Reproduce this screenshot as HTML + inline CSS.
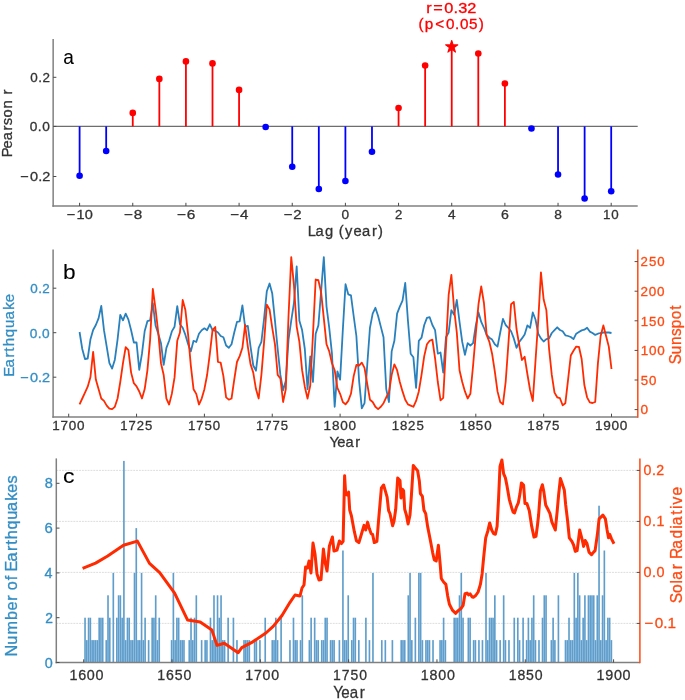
<!DOCTYPE html>
<html><head><meta charset="utf-8"><title>Earthquake and solar activity correlation</title><style>
html,body{margin:0;padding:0;background:#fff;}
svg{display:block;font-family:"Liberation Sans", sans-serif;will-change:transform;}
</style></head><body>
<svg width="685" height="700" viewBox="0 0 685 700">
<rect width="685" height="700" fill="#fff"/>
<line x1="53.15" y1="126.40" x2="637.70" y2="126.40" stroke="#6e6e6e" stroke-width="1.2"/>
<line x1="79.60" y1="126.40" x2="79.60" y2="175.80" stroke="#0000ff" stroke-width="1.8"/>
<circle cx="79.60" cy="175.80" r="3.3" fill="#0000ff"/>
<line x1="106.18" y1="126.40" x2="106.18" y2="151.00" stroke="#0000ff" stroke-width="1.8"/>
<circle cx="106.18" cy="151.00" r="3.3" fill="#0000ff"/>
<line x1="132.76" y1="126.40" x2="132.76" y2="112.90" stroke="#ff0000" stroke-width="1.8"/>
<circle cx="132.76" cy="112.90" r="3.3" fill="#ff0000"/>
<line x1="159.34" y1="126.40" x2="159.34" y2="78.90" stroke="#ff0000" stroke-width="1.8"/>
<circle cx="159.34" cy="78.90" r="3.3" fill="#ff0000"/>
<line x1="185.92" y1="126.40" x2="185.92" y2="61.40" stroke="#ff0000" stroke-width="1.8"/>
<circle cx="185.92" cy="61.40" r="3.3" fill="#ff0000"/>
<line x1="212.50" y1="126.40" x2="212.50" y2="63.40" stroke="#ff0000" stroke-width="1.8"/>
<circle cx="212.50" cy="63.40" r="3.3" fill="#ff0000"/>
<line x1="239.08" y1="126.40" x2="239.08" y2="89.90" stroke="#ff0000" stroke-width="1.8"/>
<circle cx="239.08" cy="89.90" r="3.3" fill="#ff0000"/>
<line x1="265.66" y1="126.40" x2="265.66" y2="127.00" stroke="#0000ff" stroke-width="1.8"/>
<circle cx="265.66" cy="127.00" r="3.3" fill="#0000ff"/>
<line x1="292.24" y1="126.40" x2="292.24" y2="166.70" stroke="#0000ff" stroke-width="1.8"/>
<circle cx="292.24" cy="166.70" r="3.3" fill="#0000ff"/>
<line x1="318.82" y1="126.40" x2="318.82" y2="189.00" stroke="#0000ff" stroke-width="1.8"/>
<circle cx="318.82" cy="189.00" r="3.3" fill="#0000ff"/>
<line x1="345.40" y1="126.40" x2="345.40" y2="181.00" stroke="#0000ff" stroke-width="1.8"/>
<circle cx="345.40" cy="181.00" r="3.3" fill="#0000ff"/>
<line x1="371.98" y1="126.40" x2="371.98" y2="151.80" stroke="#0000ff" stroke-width="1.8"/>
<circle cx="371.98" cy="151.80" r="3.3" fill="#0000ff"/>
<line x1="398.56" y1="126.40" x2="398.56" y2="108.00" stroke="#ff0000" stroke-width="1.8"/>
<circle cx="398.56" cy="108.00" r="3.3" fill="#ff0000"/>
<line x1="425.14" y1="126.40" x2="425.14" y2="65.50" stroke="#ff0000" stroke-width="1.8"/>
<circle cx="425.14" cy="65.50" r="3.3" fill="#ff0000"/>
<line x1="451.72" y1="126.40" x2="451.72" y2="47.00" stroke="#ff0000" stroke-width="1.8"/>
<polygon points="451.72,40.50 453.16,44.92 457.81,44.92 454.04,47.66 455.48,52.08 451.72,49.34 447.96,52.08 449.40,47.66 445.63,44.92 450.28,44.92" fill="#ff0000" stroke="#ff0000" stroke-width="1.1" stroke-linejoin="round"/>
<line x1="478.30" y1="126.40" x2="478.30" y2="53.50" stroke="#ff0000" stroke-width="1.8"/>
<circle cx="478.30" cy="53.50" r="3.3" fill="#ff0000"/>
<line x1="504.88" y1="126.40" x2="504.88" y2="83.50" stroke="#ff0000" stroke-width="1.8"/>
<circle cx="504.88" cy="83.50" r="3.3" fill="#ff0000"/>
<line x1="531.46" y1="126.40" x2="531.46" y2="128.50" stroke="#0000ff" stroke-width="1.8"/>
<circle cx="531.46" cy="128.50" r="3.3" fill="#0000ff"/>
<line x1="558.04" y1="126.40" x2="558.04" y2="174.50" stroke="#0000ff" stroke-width="1.8"/>
<circle cx="558.04" cy="174.50" r="3.3" fill="#0000ff"/>
<line x1="584.62" y1="126.40" x2="584.62" y2="198.50" stroke="#0000ff" stroke-width="1.8"/>
<circle cx="584.62" cy="198.50" r="3.3" fill="#0000ff"/>
<line x1="611.20" y1="126.40" x2="611.20" y2="191.30" stroke="#0000ff" stroke-width="1.8"/>
<circle cx="611.20" cy="191.30" r="3.3" fill="#0000ff"/>
<line x1="53.15" y1="39.00" x2="53.15" y2="206.75" stroke="#808080" stroke-width="1.5"/>
<line x1="52.40" y1="206.00" x2="637.70" y2="206.00" stroke="#808080" stroke-width="1.5"/>
<line x1="79.60" y1="206.00" x2="79.60" y2="202.80" stroke="#4a4a4a" stroke-width="1"/>
<text transform="translate(0 218.90) scale(1.0938 1)" x="61.13 69.97 77.58" y="0" font-size="13.28" fill="#333333" stroke="#333333" stroke-width="0.3">−10</text>
<line x1="132.76" y1="206.00" x2="132.76" y2="202.80" stroke="#4a4a4a" stroke-width="1"/>
<text transform="translate(0 218.90) scale(1.1502 1)" x="107.75 116.24" y="0" font-size="13.28" fill="#333333" stroke="#333333" stroke-width="0.3">−8</text>
<line x1="185.92" y1="206.00" x2="185.92" y2="202.80" stroke="#4a4a4a" stroke-width="1"/>
<text transform="translate(0 218.90) scale(1.1632 1)" x="152.18 160.56" y="0" font-size="13.28" fill="#333333" stroke="#333333" stroke-width="0.3">−6</text>
<line x1="239.08" y1="206.00" x2="239.08" y2="202.80" stroke="#4a4a4a" stroke-width="1"/>
<text transform="translate(0 218.90) scale(1.1407 1)" x="201.82 210.37" y="0" font-size="13.28" fill="#333333" stroke="#333333" stroke-width="0.3">−4</text>
<line x1="292.24" y1="206.00" x2="292.24" y2="202.80" stroke="#4a4a4a" stroke-width="1"/>
<text transform="translate(0 218.90) scale(1.1284 1)" x="251.42 259.91" y="0" font-size="13.28" fill="#333333" stroke="#333333" stroke-width="0.3">−2</text>
<line x1="345.40" y1="206.00" x2="345.40" y2="202.80" stroke="#4a4a4a" stroke-width="1"/>
<text transform="translate(0 218.90) scale(1.0284 1)" x="332.16" y="0" font-size="13.28" fill="#333333" stroke="#333333" stroke-width="0.3">0</text>
<line x1="398.56" y1="206.00" x2="398.56" y2="202.80" stroke="#4a4a4a" stroke-width="1"/>
<text transform="translate(0 218.90) scale(0.9913 1)" x="398.37" y="0" font-size="13.28" fill="#333333" stroke="#333333" stroke-width="0.3">2</text>
<line x1="451.72" y1="206.00" x2="451.72" y2="202.80" stroke="#4a4a4a" stroke-width="1"/>
<text transform="translate(0 218.90) scale(1.0285 1)" x="435.53" y="0" font-size="13.28" fill="#333333" stroke="#333333" stroke-width="0.3">4</text>
<line x1="504.88" y1="206.00" x2="504.88" y2="202.80" stroke="#4a4a4a" stroke-width="1"/>
<text transform="translate(0 218.90) scale(1.0644 1)" x="470.60" y="0" font-size="13.28" fill="#333333" stroke="#333333" stroke-width="0.3">6</text>
<line x1="558.04" y1="206.00" x2="558.04" y2="202.80" stroke="#4a4a4a" stroke-width="1"/>
<text transform="translate(0 218.90) scale(1.0396 1)" x="533.11" y="0" font-size="13.28" fill="#333333" stroke="#333333" stroke-width="0.3">8</text>
<line x1="611.20" y1="206.00" x2="611.20" y2="202.80" stroke="#4a4a4a" stroke-width="1"/>
<text transform="translate(0 218.90) scale(1.0065 1)" x="599.11 607.36" y="0" font-size="13.28" fill="#333333" stroke="#333333" stroke-width="0.3">10</text>
<line x1="53.15" y1="176.50" x2="56.35" y2="176.50" stroke="#4a4a4a" stroke-width="1"/>
<text transform="translate(0 181.30) scale(1.0923 1)" x="18.53 27.45 34.95 38.61" y="0" font-size="13.28" fill="#333333" stroke="#333333" stroke-width="0.3">−0.2</text>
<line x1="53.15" y1="126.40" x2="56.35" y2="126.40" stroke="#4a4a4a" stroke-width="1"/>
<text transform="translate(0 131.20) scale(1.0309 1)" x="28.88 36.72 40.87" y="0" font-size="13.28" fill="#333333" stroke="#333333" stroke-width="0.3">0.0</text>
<line x1="53.15" y1="77.30" x2="56.35" y2="77.30" stroke="#4a4a4a" stroke-width="1"/>
<text transform="translate(0 82.10) scale(1.0145 1)" x="29.84 37.77 41.85" y="0" font-size="13.28" fill="#333333" stroke="#333333" stroke-width="0.3">0.2</text>
<text transform="translate(0 235.80) scale(1.0137 1)" x="303.62 311.25 320.72 329.74 334.11 340.37 348.74 357.07 366.94 372.82" y="0" font-size="14.53" fill="#333333" stroke="#333333" stroke-width="0.3">Lag (year)</text>
<text transform="translate(12.30 0) rotate(-90) scale(1.0337 1)" x="-152.15 -143.61 -135.64 -126.15 -121.06 -113.70 -105.04 -96.47 -91.54" y="0" font-size="14.32" fill="#333333" stroke="#333333" stroke-width="0.3">Pearson r</text>
<text x="68.59" y="63.90" font-size="21.0" text-anchor="middle" fill="#000" textLength="10.61" lengthAdjust="spacingAndGlyphs" stroke="#000" stroke-width="0.08">a</text>
<text transform="translate(0 13.10) scale(1.1494 1)" x="370.90 376.85 386.43 394.48 398.61 406.53" y="0" font-size="14.20" fill="#ff0000" stroke="#ff0000" stroke-width="0.3">r=0.32</text>
<text transform="translate(0 29.00) scale(1.0843 1)" x="386.02 391.75 401.32 411.38 419.72 424.15 432.61 441.46" y="0" font-size="14.07" fill="#ff0000" stroke="#ff0000" stroke-width="0.3">(p&lt;0.05)</text>
<polyline points="79.56,332.00 82.27,349.00 84.98,359.00 87.70,358.50 90.41,339.60 93.13,330.00 95.84,325.00 98.55,318.40 101.27,305.90 103.98,330.20 106.70,346.70 109.41,363.20 112.12,368.60 114.84,359.70 117.55,339.60 120.27,314.90 122.98,320.30 125.69,313.70 128.41,319.60 131.12,330.20 133.84,342.50 136.55,342.50 139.26,369.80 141.98,353.70 144.69,331.00 147.41,321.20 150.12,320.30 152.83,303.10 155.55,325.50 158.26,333.70 160.98,343.20 163.69,364.90 166.40,347.90 169.12,340.80 171.83,331.40 174.55,326.70 177.26,306.10 179.97,324.30 182.69,327.80 185.40,334.90 188.12,344.30 190.83,351.40 193.54,340.80 196.26,342.00 198.97,333.70 201.69,330.20 204.40,328.30 207.11,330.20 209.83,324.30 212.54,330.20 215.26,330.80 217.97,332.50 220.68,336.00 223.40,337.20 226.11,345.50 228.83,347.80 231.54,344.30 234.25,332.50 236.97,321.90 239.68,321.40 242.40,305.40 245.11,326.60 247.82,325.90 250.54,346.60 253.25,365.50 255.97,370.70 258.68,347.80 261.39,341.90 264.11,318.40 266.82,291.20 269.54,283.50 272.25,293.60 274.96,320.70 277.68,349.00 280.39,374.90 283.11,390.30 285.82,380.80 288.53,339.60 291.25,320.70 293.96,303.00 296.68,266.50 299.39,320.70 302.10,330.10 304.82,349.00 307.53,389.10 310.25,356.50 312.96,382.00 315.67,333.70 318.39,325.40 321.10,291.20 323.82,257.10 326.53,306.60 329.24,327.80 331.96,353.70 334.67,406.80 337.39,371.40 340.10,379.60 342.81,330.10 345.53,284.20 348.24,294.30 350.96,295.30 353.67,316.00 356.38,336.00 359.10,380.80 361.81,408.40 364.53,403.20 367.24,365.00 369.95,327.80 372.67,313.60 375.38,307.80 378.10,316.00 380.81,326.60 383.52,337.20 386.24,389.10 388.95,402.00 391.67,351.40 394.38,340.80 397.09,313.60 399.81,306.60 402.52,300.70 405.24,283.00 407.95,320.70 410.66,353.70 413.38,357.30 416.09,387.90 418.81,340.80 421.52,337.70 424.23,325.00 426.95,317.90 429.66,317.20 432.38,325.00 435.09,330.10 437.80,353.70 440.52,352.50 443.23,372.60 445.95,337.20 448.66,332.50 451.37,310.10 454.09,314.80 456.80,300.00 459.52,321.90 462.23,341.90 464.94,354.90 467.66,343.10 470.37,345.50 473.09,343.10 475.80,325.40 478.51,312.50 481.23,321.90 483.94,327.80 486.66,334.90 489.37,337.70 492.08,339.60 494.80,344.30 497.51,346.60 500.23,332.50 502.94,318.80 505.65,325.00 508.37,327.80 511.08,331.30 513.80,338.40 516.51,347.80 519.22,342.00 521.94,338.40 524.65,334.40 527.37,325.40 530.08,327.80 532.79,312.50 535.51,319.50 538.22,333.70 540.94,338.40 543.65,341.50 546.36,339.10 549.08,338.40 551.79,333.00 554.51,330.10 557.22,327.30 559.93,330.00 562.65,331.30 565.36,335.30 568.08,336.00 570.79,337.00 573.50,339.10 576.22,333.70 578.93,332.00 581.65,330.40 584.36,329.70 587.07,327.80 589.79,331.60 592.50,333.00 595.22,334.90 597.93,333.70 600.64,333.00 603.36,332.50 606.07,332.50 608.79,332.50 611.50,333.00" fill="none" stroke="#2880bd" stroke-width="1.8" stroke-linejoin="round" stroke-linecap="butt"/>
<polyline points="79.56,404.40 82.27,398.50 84.98,392.60 87.70,386.70 90.41,377.30 93.13,351.80 95.84,379.60 98.55,389.00 101.27,398.50 103.98,400.90 106.70,405.60 109.41,408.70 112.12,409.20 114.84,406.80 117.55,398.50 120.27,382.00 122.98,363.20 125.69,347.10 128.41,350.20 131.12,372.60 133.84,383.20 136.55,386.30 139.26,391.50 141.98,398.50 144.69,389.10 147.41,370.30 150.12,339.60 152.83,288.90 155.55,309.00 158.26,332.50 160.98,363.20 163.69,375.00 166.40,398.60 169.12,404.50 171.83,393.90 174.55,377.40 177.26,340.80 179.97,332.50 182.69,300.00 185.40,310.10 188.12,334.90 190.83,365.60 193.54,389.20 196.26,393.90 198.97,404.50 201.69,398.60 204.40,389.20 207.11,375.00 209.83,353.80 212.54,330.20 215.26,327.00 217.97,362.00 220.68,362.70 223.40,376.10 226.11,397.30 228.83,399.70 231.54,398.50 234.25,379.60 236.97,362.00 239.68,356.10 242.40,347.80 245.11,325.00 247.82,346.60 250.54,364.30 253.25,372.60 255.97,389.10 258.68,398.50 261.39,374.90 264.11,341.90 266.82,304.70 269.54,309.40 272.25,327.80 274.96,344.30 277.68,374.90 280.39,378.50 283.11,402.00 285.82,389.10 288.53,316.00 291.25,257.10 293.96,285.40 296.68,326.60 299.39,341.90 302.10,370.20 304.82,386.70 307.53,398.50 310.25,385.50 312.96,334.90 315.67,279.50 318.39,280.20 321.10,292.40 323.82,318.40 326.53,344.30 329.24,351.40 331.96,363.20 334.67,370.20 337.39,387.90 340.10,393.80 342.81,402.00 345.53,404.40 348.24,400.90 350.96,393.80 353.67,376.10 356.38,365.00 359.10,365.50 361.81,362.70 364.53,367.90 367.24,384.00 369.95,399.70 372.67,402.00 375.38,406.80 378.10,409.10 380.81,406.80 383.52,403.20 386.24,397.30 388.95,392.60 391.67,374.90 394.38,364.30 397.09,370.20 399.81,382.00 402.52,391.40 405.24,399.70 407.95,404.40 410.66,405.60 413.38,406.80 416.09,400.90 418.81,391.40 421.52,374.90 424.23,356.10 426.95,344.30 429.66,340.80 432.38,339.60 435.09,358.40 437.80,382.00 440.52,400.30 443.23,397.90 445.95,346.60 448.66,294.80 451.37,274.80 454.09,308.90 456.80,332.50 459.52,370.20 462.23,382.00 464.94,391.40 467.66,398.50 470.37,393.80 473.09,365.50 475.80,333.70 478.51,304.20 481.23,286.50 483.94,303.00 486.66,334.90 489.37,341.90 492.08,353.70 494.80,371.40 497.51,391.40 500.23,402.00 502.94,404.40 505.65,382.00 508.37,344.30 511.08,304.20 513.80,301.90 516.51,329.00 519.22,345.00 521.94,360.00 524.65,356.80 527.37,374.00 530.08,390.00 532.79,401.00 535.51,360.80 538.22,320.70 540.94,272.40 543.65,299.50 546.36,310.10 549.08,349.00 551.79,374.90 554.51,392.60 557.22,397.30 559.93,398.20 562.65,405.30 565.36,403.20 568.08,379.60 570.79,355.50 573.50,350.80 576.22,346.60 578.93,346.80 581.65,359.00 584.36,385.00 587.07,397.30 589.79,402.40 592.50,403.00 595.22,402.00 597.93,363.10 600.64,336.00 603.36,325.40 606.07,336.00 608.79,346.60 611.50,369.00" fill="none" stroke="#ff2a00" stroke-width="1.8" stroke-linejoin="round" stroke-linecap="butt"/>
<line x1="53.10" y1="249.60" x2="53.10" y2="417.65" stroke="#808080" stroke-width="1.5"/>
<line x1="52.35" y1="416.90" x2="637.80" y2="416.90" stroke="#808080" stroke-width="1.5"/>
<line x1="637.80" y1="249.60" x2="637.80" y2="417.65" stroke="#ff4a12" stroke-width="1.5"/>
<line x1="68.70" y1="416.90" x2="68.70" y2="413.70" stroke="#4a4a4a" stroke-width="1"/>
<text transform="translate(0 429.90) scale(1.0121 1)" x="51.63 59.81 67.98 76.12" y="0" font-size="13.28" fill="#333333" stroke="#333333" stroke-width="0.3">1700</text>
<line x1="136.55" y1="416.90" x2="136.55" y2="413.70" stroke="#4a4a4a" stroke-width="1"/>
<text transform="translate(0 429.90) scale(0.9874 1)" x="121.87 130.25 138.45 146.91" y="0" font-size="13.28" fill="#333333" stroke="#333333" stroke-width="0.3">1725</text>
<line x1="204.40" y1="416.90" x2="204.40" y2="413.70" stroke="#4a4a4a" stroke-width="1"/>
<text transform="translate(0 429.90) scale(0.9971 1)" x="188.55 196.86 205.09 213.41" y="0" font-size="13.28" fill="#333333" stroke="#333333" stroke-width="0.3">1750</text>
<line x1="272.25" y1="416.90" x2="272.25" y2="413.70" stroke="#4a4a4a" stroke-width="1"/>
<text transform="translate(0 429.90) scale(0.9911 1)" x="258.32 266.67 274.98 283.27" y="0" font-size="13.28" fill="#333333" stroke="#333333" stroke-width="0.3">1775</text>
<line x1="340.10" y1="416.90" x2="340.10" y2="413.70" stroke="#4a4a4a" stroke-width="1"/>
<text transform="translate(0 429.90) scale(1.0205 1)" x="317.11 325.26 333.33 341.40" y="0" font-size="13.28" fill="#333333" stroke="#333333" stroke-width="0.3">1800</text>
<line x1="407.95" y1="416.90" x2="407.95" y2="413.70" stroke="#4a4a4a" stroke-width="1"/>
<text transform="translate(0 429.90) scale(0.9962 1)" x="393.20 401.54 409.64 418.03" y="0" font-size="13.28" fill="#333333" stroke="#333333" stroke-width="0.3">1825</text>
<line x1="475.80" y1="416.90" x2="475.80" y2="413.70" stroke="#4a4a4a" stroke-width="1"/>
<text transform="translate(0 429.90) scale(1.0057 1)" x="456.78 465.03 473.18 481.42" y="0" font-size="13.28" fill="#333333" stroke="#333333" stroke-width="0.3">1850</text>
<line x1="543.65" y1="416.90" x2="543.65" y2="413.70" stroke="#4a4a4a" stroke-width="1"/>
<text transform="translate(0 429.90) scale(0.9998 1)" x="527.47 535.78 544.00 552.21" y="0" font-size="13.28" fill="#333333" stroke="#333333" stroke-width="0.3">1875</text>
<line x1="611.50" y1="416.90" x2="611.50" y2="413.70" stroke="#4a4a4a" stroke-width="1"/>
<text transform="translate(0 429.90) scale(1.0261 1)" x="579.86 587.92 595.99 604.02" y="0" font-size="13.28" fill="#333333" stroke="#333333" stroke-width="0.3">1900</text>
<line x1="53.10" y1="377.20" x2="56.30" y2="377.20" stroke="#4a4a4a" stroke-width="1"/>
<text transform="translate(0 382.00) scale(1.0923 1)" x="18.43 27.36 34.86 38.52" y="0" font-size="13.28" fill="#338ec4" stroke="#338ec4" stroke-width="0.3">−0.2</text>
<line x1="53.10" y1="332.70" x2="56.30" y2="332.70" stroke="#4a4a4a" stroke-width="1"/>
<text transform="translate(0 337.50) scale(1.0309 1)" x="28.78 36.62 40.77" y="0" font-size="13.28" fill="#338ec4" stroke="#338ec4" stroke-width="0.3">0.0</text>
<line x1="53.10" y1="288.20" x2="56.30" y2="288.20" stroke="#4a4a4a" stroke-width="1"/>
<text transform="translate(0 293.00) scale(1.0145 1)" x="29.74 37.67 41.75" y="0" font-size="13.28" fill="#338ec4" stroke="#338ec4" stroke-width="0.3">0.2</text>
<line x1="637.80" y1="409.60" x2="634.60" y2="409.60" stroke="#4a4a4a" stroke-width="1"/>
<text transform="translate(0 414.40) scale(1.0284 1)" x="622.91" y="0" font-size="13.28" fill="#ff4a12" stroke="#ff4a12" stroke-width="0.3">0</text>
<line x1="637.80" y1="380.00" x2="634.60" y2="380.00" stroke="#4a4a4a" stroke-width="1"/>
<text transform="translate(0 384.80) scale(0.9996 1)" x="640.92 649.21" y="0" font-size="13.28" fill="#ff4a12" stroke="#ff4a12" stroke-width="0.3">50</text>
<line x1="637.80" y1="350.40" x2="634.60" y2="350.40" stroke="#4a4a4a" stroke-width="1"/>
<text transform="translate(0 355.20) scale(1.0141 1)" x="631.72 639.91 648.04" y="0" font-size="13.28" fill="#ff4a12" stroke="#ff4a12" stroke-width="0.3">100</text>
<line x1="637.80" y1="320.80" x2="634.60" y2="320.80" stroke="#4a4a4a" stroke-width="1"/>
<text transform="translate(0 325.60) scale(0.9942 1)" x="644.42 652.72 661.06" y="0" font-size="13.28" fill="#ff4a12" stroke="#ff4a12" stroke-width="0.3">150</text>
<line x1="637.80" y1="291.20" x2="634.60" y2="291.20" stroke="#4a4a4a" stroke-width="1"/>
<text transform="translate(0 296.00) scale(1.0164 1)" x="630.13 638.41 646.51" y="0" font-size="13.28" fill="#ff4a12" stroke="#ff4a12" stroke-width="0.3">200</text>
<line x1="637.80" y1="261.60" x2="634.60" y2="261.60" stroke="#4a4a4a" stroke-width="1"/>
<text transform="translate(0 266.40) scale(0.9969 1)" x="642.54 650.93 659.24" y="0" font-size="13.28" fill="#ff4a12" stroke="#ff4a12" stroke-width="0.3">250</text>
<text transform="translate(0 446.60) scale(0.9792 1)" x="336.51 344.38 352.78 362.76" y="0" font-size="14.98" fill="#333333" stroke="#333333" stroke-width="0.3">Year</text>
<text transform="translate(13.90 0) rotate(-90) scale(0.9850 1)" x="-382.55 -373.07 -363.00 -357.00 -351.55 -342.34 -332.96 -324.32 -314.47 -306.74" y="0" font-size="15.30" fill="#338ec4" stroke="#338ec4" stroke-width="0.3">Earthquake</text>
<text transform="translate(680.90 0) rotate(-90) scale(0.9719 1)" x="-374.67 -364.45 -354.93 -345.80 -337.63 -328.42 -318.80" y="0" font-size="15.61" fill="#ff4a12" stroke="#ff4a12" stroke-width="0.3">Sunspot</text>
<text x="69.25" y="279.20" font-size="20.7" text-anchor="middle" fill="#000" textLength="12.61" lengthAdjust="spacingAndGlyphs" stroke="#000" stroke-width="0.08">b</text>
<line x1="56.30" y1="623.40" x2="639.90" y2="623.40" stroke="#d9d9d9" stroke-width="0.9" stroke-dasharray="1.9,0.95"/>
<line x1="56.30" y1="572.40" x2="639.90" y2="572.40" stroke="#d9d9d9" stroke-width="0.9" stroke-dasharray="1.9,0.95"/>
<line x1="56.30" y1="521.40" x2="639.90" y2="521.40" stroke="#d9d9d9" stroke-width="0.9" stroke-dasharray="1.9,0.95"/>
<line x1="56.30" y1="470.40" x2="639.90" y2="470.40" stroke="#d9d9d9" stroke-width="0.9" stroke-dasharray="1.9,0.95"/>
<rect x="84.22" y="617.70" width="1.65" height="44.80" fill="#5f9ecc"/>
<rect x="85.99" y="640.10" width="1.65" height="22.40" fill="#5f9ecc"/>
<rect x="87.76" y="617.70" width="1.65" height="44.80" fill="#5f9ecc"/>
<rect x="89.52" y="617.70" width="1.65" height="44.80" fill="#5f9ecc"/>
<rect x="91.29" y="640.10" width="1.65" height="22.40" fill="#5f9ecc"/>
<rect x="93.06" y="640.10" width="1.65" height="22.40" fill="#5f9ecc"/>
<rect x="94.82" y="640.10" width="1.65" height="22.40" fill="#5f9ecc"/>
<rect x="96.59" y="640.10" width="1.65" height="22.40" fill="#5f9ecc"/>
<rect x="98.36" y="617.70" width="1.65" height="44.80" fill="#5f9ecc"/>
<rect x="100.12" y="617.70" width="1.65" height="44.80" fill="#5f9ecc"/>
<rect x="101.89" y="617.70" width="1.65" height="44.80" fill="#5f9ecc"/>
<rect x="105.42" y="640.10" width="1.65" height="22.40" fill="#5f9ecc"/>
<rect x="107.19" y="595.30" width="1.65" height="67.20" fill="#5f9ecc"/>
<rect x="108.95" y="617.70" width="1.65" height="44.80" fill="#5f9ecc"/>
<rect x="112.49" y="572.90" width="1.65" height="89.60" fill="#5f9ecc"/>
<rect x="116.02" y="617.70" width="1.65" height="44.80" fill="#5f9ecc"/>
<rect x="117.78" y="595.30" width="1.65" height="67.20" fill="#5f9ecc"/>
<rect x="119.55" y="595.30" width="1.65" height="67.20" fill="#5f9ecc"/>
<rect x="121.32" y="617.70" width="1.65" height="44.80" fill="#5f9ecc"/>
<rect x="123.08" y="460.90" width="1.65" height="201.60" fill="#5f9ecc"/>
<rect x="124.85" y="640.10" width="1.65" height="22.40" fill="#5f9ecc"/>
<rect x="126.62" y="617.70" width="1.65" height="44.80" fill="#5f9ecc"/>
<rect x="128.38" y="617.70" width="1.65" height="44.80" fill="#5f9ecc"/>
<rect x="130.15" y="640.10" width="1.65" height="22.40" fill="#5f9ecc"/>
<rect x="131.92" y="640.10" width="1.65" height="22.40" fill="#5f9ecc"/>
<rect x="133.68" y="572.90" width="1.65" height="89.60" fill="#5f9ecc"/>
<rect x="135.45" y="528.10" width="1.65" height="134.40" fill="#5f9ecc"/>
<rect x="137.21" y="640.10" width="1.65" height="22.40" fill="#5f9ecc"/>
<rect x="138.98" y="640.10" width="1.65" height="22.40" fill="#5f9ecc"/>
<rect x="140.75" y="572.90" width="1.65" height="89.60" fill="#5f9ecc"/>
<rect x="142.51" y="640.10" width="1.65" height="22.40" fill="#5f9ecc"/>
<rect x="144.28" y="617.70" width="1.65" height="44.80" fill="#5f9ecc"/>
<rect x="147.81" y="640.10" width="1.65" height="22.40" fill="#5f9ecc"/>
<rect x="151.34" y="617.70" width="1.65" height="44.80" fill="#5f9ecc"/>
<rect x="153.11" y="617.70" width="1.65" height="44.80" fill="#5f9ecc"/>
<rect x="154.88" y="595.30" width="1.65" height="67.20" fill="#5f9ecc"/>
<rect x="156.64" y="640.10" width="1.65" height="22.40" fill="#5f9ecc"/>
<rect x="158.41" y="617.70" width="1.65" height="44.80" fill="#5f9ecc"/>
<rect x="170.77" y="640.10" width="1.65" height="22.40" fill="#5f9ecc"/>
<rect x="172.54" y="572.90" width="1.65" height="89.60" fill="#5f9ecc"/>
<rect x="174.31" y="640.10" width="1.65" height="22.40" fill="#5f9ecc"/>
<rect x="176.07" y="617.70" width="1.65" height="44.80" fill="#5f9ecc"/>
<rect x="177.84" y="617.70" width="1.65" height="44.80" fill="#5f9ecc"/>
<rect x="179.61" y="640.10" width="1.65" height="22.40" fill="#5f9ecc"/>
<rect x="181.37" y="640.10" width="1.65" height="22.40" fill="#5f9ecc"/>
<rect x="183.14" y="640.10" width="1.65" height="22.40" fill="#5f9ecc"/>
<rect x="188.44" y="640.10" width="1.65" height="22.40" fill="#5f9ecc"/>
<rect x="190.20" y="617.70" width="1.65" height="44.80" fill="#5f9ecc"/>
<rect x="191.97" y="640.10" width="1.65" height="22.40" fill="#5f9ecc"/>
<rect x="193.74" y="617.70" width="1.65" height="44.80" fill="#5f9ecc"/>
<rect x="195.50" y="595.30" width="1.65" height="67.20" fill="#5f9ecc"/>
<rect x="200.80" y="640.10" width="1.65" height="22.40" fill="#5f9ecc"/>
<rect x="204.33" y="640.10" width="1.65" height="22.40" fill="#5f9ecc"/>
<rect x="206.10" y="640.10" width="1.65" height="22.40" fill="#5f9ecc"/>
<rect x="209.63" y="617.70" width="1.65" height="44.80" fill="#5f9ecc"/>
<rect x="211.40" y="640.10" width="1.65" height="22.40" fill="#5f9ecc"/>
<rect x="213.16" y="595.30" width="1.65" height="67.20" fill="#5f9ecc"/>
<rect x="214.93" y="640.10" width="1.65" height="22.40" fill="#5f9ecc"/>
<rect x="216.70" y="595.30" width="1.65" height="67.20" fill="#5f9ecc"/>
<rect x="218.46" y="617.70" width="1.65" height="44.80" fill="#5f9ecc"/>
<rect x="220.23" y="595.30" width="1.65" height="67.20" fill="#5f9ecc"/>
<rect x="222.00" y="640.10" width="1.65" height="22.40" fill="#5f9ecc"/>
<rect x="223.76" y="640.10" width="1.65" height="22.40" fill="#5f9ecc"/>
<rect x="227.30" y="617.70" width="1.65" height="44.80" fill="#5f9ecc"/>
<rect x="232.59" y="617.70" width="1.65" height="44.80" fill="#5f9ecc"/>
<rect x="236.13" y="640.10" width="1.65" height="22.40" fill="#5f9ecc"/>
<rect x="243.19" y="640.10" width="1.65" height="22.40" fill="#5f9ecc"/>
<rect x="244.96" y="640.10" width="1.65" height="22.40" fill="#5f9ecc"/>
<rect x="246.72" y="640.10" width="1.65" height="22.40" fill="#5f9ecc"/>
<rect x="248.49" y="640.10" width="1.65" height="22.40" fill="#5f9ecc"/>
<rect x="253.79" y="640.10" width="1.65" height="22.40" fill="#5f9ecc"/>
<rect x="255.56" y="640.10" width="1.65" height="22.40" fill="#5f9ecc"/>
<rect x="259.09" y="640.10" width="1.65" height="22.40" fill="#5f9ecc"/>
<rect x="264.39" y="617.70" width="1.65" height="44.80" fill="#5f9ecc"/>
<rect x="271.45" y="640.10" width="1.65" height="22.40" fill="#5f9ecc"/>
<rect x="273.22" y="640.10" width="1.65" height="22.40" fill="#5f9ecc"/>
<rect x="274.99" y="617.70" width="1.65" height="44.80" fill="#5f9ecc"/>
<rect x="276.75" y="640.10" width="1.65" height="22.40" fill="#5f9ecc"/>
<rect x="280.28" y="617.70" width="1.65" height="44.80" fill="#5f9ecc"/>
<rect x="289.12" y="640.10" width="1.65" height="22.40" fill="#5f9ecc"/>
<rect x="292.65" y="617.70" width="1.65" height="44.80" fill="#5f9ecc"/>
<rect x="294.41" y="640.10" width="1.65" height="22.40" fill="#5f9ecc"/>
<rect x="296.18" y="640.10" width="1.65" height="22.40" fill="#5f9ecc"/>
<rect x="299.71" y="640.10" width="1.65" height="22.40" fill="#5f9ecc"/>
<rect x="301.48" y="595.30" width="1.65" height="67.20" fill="#5f9ecc"/>
<rect x="308.55" y="640.10" width="1.65" height="22.40" fill="#5f9ecc"/>
<rect x="310.31" y="617.70" width="1.65" height="44.80" fill="#5f9ecc"/>
<rect x="313.84" y="617.70" width="1.65" height="44.80" fill="#5f9ecc"/>
<rect x="315.61" y="640.10" width="1.65" height="22.40" fill="#5f9ecc"/>
<rect x="317.38" y="640.10" width="1.65" height="22.40" fill="#5f9ecc"/>
<rect x="320.91" y="640.10" width="1.65" height="22.40" fill="#5f9ecc"/>
<rect x="322.68" y="640.10" width="1.65" height="22.40" fill="#5f9ecc"/>
<rect x="324.44" y="617.70" width="1.65" height="44.80" fill="#5f9ecc"/>
<rect x="326.21" y="617.70" width="1.65" height="44.80" fill="#5f9ecc"/>
<rect x="329.74" y="640.10" width="1.65" height="22.40" fill="#5f9ecc"/>
<rect x="331.51" y="640.10" width="1.65" height="22.40" fill="#5f9ecc"/>
<rect x="333.27" y="640.10" width="1.65" height="22.40" fill="#5f9ecc"/>
<rect x="338.57" y="640.10" width="1.65" height="22.40" fill="#5f9ecc"/>
<rect x="342.10" y="550.50" width="1.65" height="112.00" fill="#5f9ecc"/>
<rect x="343.87" y="640.10" width="1.65" height="22.40" fill="#5f9ecc"/>
<rect x="345.64" y="640.10" width="1.65" height="22.40" fill="#5f9ecc"/>
<rect x="347.40" y="595.30" width="1.65" height="67.20" fill="#5f9ecc"/>
<rect x="350.94" y="640.10" width="1.65" height="22.40" fill="#5f9ecc"/>
<rect x="352.70" y="617.70" width="1.65" height="44.80" fill="#5f9ecc"/>
<rect x="354.47" y="617.70" width="1.65" height="44.80" fill="#5f9ecc"/>
<rect x="358.00" y="640.10" width="1.65" height="22.40" fill="#5f9ecc"/>
<rect x="365.07" y="617.70" width="1.65" height="44.80" fill="#5f9ecc"/>
<rect x="368.60" y="640.10" width="1.65" height="22.40" fill="#5f9ecc"/>
<rect x="372.13" y="572.90" width="1.65" height="89.60" fill="#5f9ecc"/>
<rect x="380.96" y="640.10" width="1.65" height="22.40" fill="#5f9ecc"/>
<rect x="384.50" y="640.10" width="1.65" height="22.40" fill="#5f9ecc"/>
<rect x="391.56" y="640.10" width="1.65" height="22.40" fill="#5f9ecc"/>
<rect x="400.39" y="640.10" width="1.65" height="22.40" fill="#5f9ecc"/>
<rect x="402.16" y="640.10" width="1.65" height="22.40" fill="#5f9ecc"/>
<rect x="403.93" y="640.10" width="1.65" height="22.40" fill="#5f9ecc"/>
<rect x="407.46" y="595.30" width="1.65" height="67.20" fill="#5f9ecc"/>
<rect x="409.22" y="572.90" width="1.65" height="89.60" fill="#5f9ecc"/>
<rect x="410.99" y="640.10" width="1.65" height="22.40" fill="#5f9ecc"/>
<rect x="414.52" y="617.70" width="1.65" height="44.80" fill="#5f9ecc"/>
<rect x="418.06" y="572.90" width="1.65" height="89.60" fill="#5f9ecc"/>
<rect x="419.82" y="572.90" width="1.65" height="89.60" fill="#5f9ecc"/>
<rect x="421.59" y="640.10" width="1.65" height="22.40" fill="#5f9ecc"/>
<rect x="425.12" y="640.10" width="1.65" height="22.40" fill="#5f9ecc"/>
<rect x="426.89" y="640.10" width="1.65" height="22.40" fill="#5f9ecc"/>
<rect x="428.65" y="640.10" width="1.65" height="22.40" fill="#5f9ecc"/>
<rect x="432.19" y="640.10" width="1.65" height="22.40" fill="#5f9ecc"/>
<rect x="439.25" y="640.10" width="1.65" height="22.40" fill="#5f9ecc"/>
<rect x="441.02" y="640.10" width="1.65" height="22.40" fill="#5f9ecc"/>
<rect x="442.78" y="617.70" width="1.65" height="44.80" fill="#5f9ecc"/>
<rect x="444.55" y="640.10" width="1.65" height="22.40" fill="#5f9ecc"/>
<rect x="453.38" y="617.70" width="1.65" height="44.80" fill="#5f9ecc"/>
<rect x="455.15" y="617.70" width="1.65" height="44.80" fill="#5f9ecc"/>
<rect x="456.91" y="617.70" width="1.65" height="44.80" fill="#5f9ecc"/>
<rect x="458.68" y="595.30" width="1.65" height="67.20" fill="#5f9ecc"/>
<rect x="460.45" y="572.90" width="1.65" height="89.60" fill="#5f9ecc"/>
<rect x="462.21" y="617.70" width="1.65" height="44.80" fill="#5f9ecc"/>
<rect x="467.51" y="617.70" width="1.65" height="44.80" fill="#5f9ecc"/>
<rect x="469.28" y="617.70" width="1.65" height="44.80" fill="#5f9ecc"/>
<rect x="472.81" y="640.10" width="1.65" height="22.40" fill="#5f9ecc"/>
<rect x="474.58" y="640.10" width="1.65" height="22.40" fill="#5f9ecc"/>
<rect x="478.11" y="640.10" width="1.65" height="22.40" fill="#5f9ecc"/>
<rect x="481.64" y="640.10" width="1.65" height="22.40" fill="#5f9ecc"/>
<rect x="485.18" y="572.90" width="1.65" height="89.60" fill="#5f9ecc"/>
<rect x="486.94" y="640.10" width="1.65" height="22.40" fill="#5f9ecc"/>
<rect x="488.71" y="617.70" width="1.65" height="44.80" fill="#5f9ecc"/>
<rect x="490.47" y="617.70" width="1.65" height="44.80" fill="#5f9ecc"/>
<rect x="492.24" y="617.70" width="1.65" height="44.80" fill="#5f9ecc"/>
<rect x="494.01" y="595.30" width="1.65" height="67.20" fill="#5f9ecc"/>
<rect x="495.77" y="640.10" width="1.65" height="22.40" fill="#5f9ecc"/>
<rect x="499.31" y="640.10" width="1.65" height="22.40" fill="#5f9ecc"/>
<rect x="502.84" y="595.30" width="1.65" height="67.20" fill="#5f9ecc"/>
<rect x="504.60" y="640.10" width="1.65" height="22.40" fill="#5f9ecc"/>
<rect x="508.14" y="640.10" width="1.65" height="22.40" fill="#5f9ecc"/>
<rect x="513.44" y="617.70" width="1.65" height="44.80" fill="#5f9ecc"/>
<rect x="516.97" y="617.70" width="1.65" height="44.80" fill="#5f9ecc"/>
<rect x="518.73" y="640.10" width="1.65" height="22.40" fill="#5f9ecc"/>
<rect x="522.27" y="617.70" width="1.65" height="44.80" fill="#5f9ecc"/>
<rect x="525.80" y="640.10" width="1.65" height="22.40" fill="#5f9ecc"/>
<rect x="527.57" y="617.70" width="1.65" height="44.80" fill="#5f9ecc"/>
<rect x="529.33" y="640.10" width="1.65" height="22.40" fill="#5f9ecc"/>
<rect x="531.10" y="617.70" width="1.65" height="44.80" fill="#5f9ecc"/>
<rect x="532.87" y="595.30" width="1.65" height="67.20" fill="#5f9ecc"/>
<rect x="534.63" y="640.10" width="1.65" height="22.40" fill="#5f9ecc"/>
<rect x="538.16" y="640.10" width="1.65" height="22.40" fill="#5f9ecc"/>
<rect x="541.70" y="617.70" width="1.65" height="44.80" fill="#5f9ecc"/>
<rect x="543.46" y="595.30" width="1.65" height="67.20" fill="#5f9ecc"/>
<rect x="545.23" y="595.30" width="1.65" height="67.20" fill="#5f9ecc"/>
<rect x="550.53" y="640.10" width="1.65" height="22.40" fill="#5f9ecc"/>
<rect x="552.29" y="617.70" width="1.65" height="44.80" fill="#5f9ecc"/>
<rect x="554.06" y="640.10" width="1.65" height="22.40" fill="#5f9ecc"/>
<rect x="557.59" y="595.30" width="1.65" height="67.20" fill="#5f9ecc"/>
<rect x="564.66" y="640.10" width="1.65" height="22.40" fill="#5f9ecc"/>
<rect x="566.42" y="640.10" width="1.65" height="22.40" fill="#5f9ecc"/>
<rect x="568.19" y="617.70" width="1.65" height="44.80" fill="#5f9ecc"/>
<rect x="569.96" y="640.10" width="1.65" height="22.40" fill="#5f9ecc"/>
<rect x="571.72" y="640.10" width="1.65" height="22.40" fill="#5f9ecc"/>
<rect x="573.49" y="572.90" width="1.65" height="89.60" fill="#5f9ecc"/>
<rect x="575.26" y="617.70" width="1.65" height="44.80" fill="#5f9ecc"/>
<rect x="577.02" y="572.90" width="1.65" height="89.60" fill="#5f9ecc"/>
<rect x="578.79" y="595.30" width="1.65" height="67.20" fill="#5f9ecc"/>
<rect x="580.56" y="640.10" width="1.65" height="22.40" fill="#5f9ecc"/>
<rect x="582.32" y="617.70" width="1.65" height="44.80" fill="#5f9ecc"/>
<rect x="584.09" y="595.30" width="1.65" height="67.20" fill="#5f9ecc"/>
<rect x="585.85" y="640.10" width="1.65" height="22.40" fill="#5f9ecc"/>
<rect x="587.62" y="595.30" width="1.65" height="67.20" fill="#5f9ecc"/>
<rect x="589.39" y="595.30" width="1.65" height="67.20" fill="#5f9ecc"/>
<rect x="591.15" y="595.30" width="1.65" height="67.20" fill="#5f9ecc"/>
<rect x="592.92" y="595.30" width="1.65" height="67.20" fill="#5f9ecc"/>
<rect x="594.69" y="640.10" width="1.65" height="22.40" fill="#5f9ecc"/>
<rect x="596.45" y="595.30" width="1.65" height="67.20" fill="#5f9ecc"/>
<rect x="598.22" y="505.70" width="1.65" height="156.80" fill="#5f9ecc"/>
<rect x="599.98" y="640.10" width="1.65" height="22.40" fill="#5f9ecc"/>
<rect x="601.75" y="595.30" width="1.65" height="67.20" fill="#5f9ecc"/>
<rect x="603.52" y="550.50" width="1.65" height="112.00" fill="#5f9ecc"/>
<rect x="605.28" y="640.10" width="1.65" height="22.40" fill="#5f9ecc"/>
<rect x="607.05" y="617.70" width="1.65" height="44.80" fill="#5f9ecc"/>
<rect x="608.82" y="617.70" width="1.65" height="44.80" fill="#5f9ecc"/>
<rect x="610.58" y="640.10" width="1.65" height="22.40" fill="#5f9ecc"/>
<polyline points="82.60,568.40 95.60,563.10 107.70,556.00 123.50,545.20 137.40,541.10 149.50,563.40 159.70,572.70 174.60,593.10 187.60,620.10 200.20,622.00 211.90,630.10 217.00,645.40 224.30,643.20 238.20,652.70 241.80,647.60 252.80,641.80 265.90,633.00 273.20,626.40 282.00,615.50 290.00,602.30 295.00,595.00 300.00,596.00 302.00,588.00 304.00,585.00 305.60,567.00 307.40,568.00 309.00,561.00 311.00,573.00 313.00,543.00 315.00,554.00 317.00,574.00 319.00,580.00 321.00,579.60 323.40,549.00 325.00,562.00 327.00,571.00 329.40,546.00 332.40,537.00 334.00,551.00 337.00,550.00 339.40,541.00 341.40,543.60 343.10,541.40 344.60,475.70 345.70,494.30 347.10,495.00 348.60,492.10 349.70,510.00 351.40,515.70 354.30,531.40 356.40,540.70 358.90,542.60 361.40,534.30 364.00,525.40 365.70,530.00 367.60,522.10 369.30,528.60 371.10,533.60 372.60,534.30 374.30,542.60 376.90,541.40 378.60,520.00 381.40,487.90 383.60,485.00 385.70,492.10 387.10,497.10 388.60,510.70 390.00,513.60 392.60,525.70 394.00,521.40 395.70,509.30 397.70,477.90 400.00,480.40 401.00,497.90 402.40,489.30 403.60,490.70 404.70,509.30 406.40,515.00 408.10,524.00 410.00,515.00 411.40,495.70 413.30,465.40 415.70,468.60 417.60,470.70 419.30,480.70 420.40,493.60 422.40,496.40 423.90,510.00 425.70,513.60 427.60,526.40 430.00,538.50 432.70,552.80 434.30,560.00 436.20,561.00 438.40,545.30 440.10,563.40 441.30,578.50 443.60,582.00 445.90,584.40 447.70,596.10 449.40,604.20 452.40,610.10 455.50,613.30 458.20,610.70 461.10,608.30 463.10,605.40 465.00,593.70 467.00,593.10 468.70,594.90 470.10,593.90 472.20,597.00 473.40,597.20 475.70,595.50 478.10,592.00 480.40,584.40 482.10,573.90 483.60,558.00 485.70,537.90 487.90,530.70 489.70,522.90 491.70,530.00 493.60,533.60 495.40,534.30 497.10,526.40 498.60,497.90 500.00,466.40 501.90,460.00 503.60,473.60 505.40,477.90 507.10,486.40 509.30,499.30 511.70,507.90 513.10,512.10 514.60,512.90 516.40,507.10 518.30,502.90 520.00,493.60 521.40,482.90 523.60,485.00 525.00,503.60 526.90,503.60 529.30,510.70 531.70,526.40 534.00,537.10 536.00,536.40 537.50,525.00 538.60,515.00 540.40,490.70 542.40,484.70 543.90,492.10 545.70,505.00 547.90,509.30 550.00,513.60 551.90,522.10 555.30,530.00 557.10,512.10 558.60,495.00 560.40,478.60 562.10,483.60 564.30,490.00 565.70,505.00 567.60,520.70 569.30,537.90 571.90,541.40 573.60,545.00 575.30,551.40 577.10,550.70 579.70,530.00 582.10,539.30 583.60,546.40 585.20,540.50 587.00,543.60 589.00,552.10 591.50,554.70 593.60,552.10 595.10,550.60 597.40,534.30 599.10,518.90 602.90,515.10 605.40,518.90 607.10,530.00 608.50,537.70 609.70,534.30 611.40,538.60 614.00,543.70" fill="none" stroke="#ff2a00" stroke-width="3.0" stroke-linejoin="round" stroke-linecap="butt"/>
<line x1="56.30" y1="458.40" x2="56.30" y2="663.25" stroke="#808080" stroke-width="1.5"/>
<line x1="55.55" y1="662.50" x2="639.90" y2="662.50" stroke="#808080" stroke-width="1.5"/>
<line x1="639.90" y1="458.40" x2="639.90" y2="663.25" stroke="#ff4a12" stroke-width="1.5"/>
<line x1="83.70" y1="662.50" x2="83.70" y2="659.30" stroke="#4a4a4a" stroke-width="1"/>
<text transform="translate(0 679.50) scale(0.9871 1)" x="70.33 79.19 87.98 96.77" y="0" font-size="14.54" fill="#333333" stroke="#333333" stroke-width="0.3">1600</text>
<line x1="172.01" y1="662.50" x2="172.01" y2="659.30" stroke="#4a4a4a" stroke-width="1"/>
<text transform="translate(0 679.50) scale(0.9728 1)" x="161.72 170.72 179.58 188.55" y="0" font-size="14.54" fill="#333333" stroke="#333333" stroke-width="0.3">1650</text>
<line x1="260.33" y1="662.50" x2="260.33" y2="659.30" stroke="#4a4a4a" stroke-width="1"/>
<text transform="translate(0 679.50) scale(0.9732 1)" x="251.95 260.91 269.85 278.76" y="0" font-size="14.54" fill="#333333" stroke="#333333" stroke-width="0.3">1700</text>
<line x1="348.64" y1="662.50" x2="348.64" y2="659.30" stroke="#4a4a4a" stroke-width="1"/>
<text transform="translate(0 679.50) scale(0.9588 1)" x="347.42 356.51 365.53 374.63" y="0" font-size="14.54" fill="#333333" stroke="#333333" stroke-width="0.3">1750</text>
<line x1="436.96" y1="662.50" x2="436.96" y2="659.30" stroke="#4a4a4a" stroke-width="1"/>
<text transform="translate(0 679.50) scale(0.9813 1)" x="428.88 437.80 446.64 455.48" y="0" font-size="14.54" fill="#333333" stroke="#333333" stroke-width="0.3">1800</text>
<line x1="525.27" y1="662.50" x2="525.27" y2="659.30" stroke="#4a4a4a" stroke-width="1"/>
<text transform="translate(0 679.50) scale(0.9670 1)" x="526.11 535.16 544.07 553.10" y="0" font-size="14.54" fill="#333333" stroke="#333333" stroke-width="0.3">1850</text>
<line x1="613.59" y1="662.50" x2="613.59" y2="659.30" stroke="#4a4a4a" stroke-width="1"/>
<text transform="translate(0 679.50) scale(0.9866 1)" x="604.60 613.43 622.26 631.06" y="0" font-size="14.54" fill="#333333" stroke="#333333" stroke-width="0.3">1900</text>
<line x1="56.30" y1="662.50" x2="59.50" y2="662.50" stroke="#4a4a4a" stroke-width="1"/>
<text transform="translate(0 667.50) scale(0.9889 1)" x="45.27" y="0" font-size="14.54" fill="#338ec4" stroke="#338ec4" stroke-width="0.3">0</text>
<line x1="56.30" y1="617.70" x2="59.50" y2="617.70" stroke="#4a4a4a" stroke-width="1"/>
<text transform="translate(0 622.70) scale(0.9532 1)" x="47.41" y="0" font-size="14.54" fill="#338ec4" stroke="#338ec4" stroke-width="0.3">2</text>
<line x1="56.30" y1="572.90" x2="59.50" y2="572.90" stroke="#4a4a4a" stroke-width="1"/>
<text transform="translate(0 577.90) scale(0.9890 1)" x="45.12" y="0" font-size="14.54" fill="#338ec4" stroke="#338ec4" stroke-width="0.3">4</text>
<line x1="56.30" y1="528.10" x2="59.50" y2="528.10" stroke="#4a4a4a" stroke-width="1"/>
<text transform="translate(0 533.10) scale(1.0235 1)" x="43.56" y="0" font-size="14.54" fill="#338ec4" stroke="#338ec4" stroke-width="0.3">6</text>
<line x1="56.30" y1="483.30" x2="59.50" y2="483.30" stroke="#4a4a4a" stroke-width="1"/>
<text transform="translate(0 488.30) scale(0.9996 1)" x="44.77" y="0" font-size="14.54" fill="#338ec4" stroke="#338ec4" stroke-width="0.3">8</text>
<line x1="639.90" y1="623.40" x2="636.70" y2="623.40" stroke="#4a4a4a" stroke-width="1"/>
<text transform="translate(0 628.40) scale(1.0494 1)" x="614.05 623.83 632.05 636.15" y="0" font-size="14.54" fill="#ff4a12" stroke="#ff4a12" stroke-width="0.3">−0.1</text>
<line x1="639.90" y1="572.40" x2="636.70" y2="572.40" stroke="#4a4a4a" stroke-width="1"/>
<text transform="translate(0 577.40) scale(0.9912 1)" x="649.11 657.69 662.24" y="0" font-size="14.54" fill="#ff4a12" stroke="#ff4a12" stroke-width="0.3">0.0</text>
<line x1="639.90" y1="521.40" x2="636.70" y2="521.40" stroke="#4a4a4a" stroke-width="1"/>
<text transform="translate(0 526.40) scale(0.9723 1)" x="661.84 670.55 675.15" y="0" font-size="14.54" fill="#ff4a12" stroke="#ff4a12" stroke-width="0.3">0.1</text>
<line x1="639.90" y1="470.40" x2="636.70" y2="470.40" stroke="#4a4a4a" stroke-width="1"/>
<text transform="translate(0 475.40) scale(0.9755 1)" x="659.66 668.35 672.82" y="0" font-size="14.54" fill="#ff4a12" stroke="#ff4a12" stroke-width="0.3">0.2</text>
<text transform="translate(0 697.70) scale(0.9116 1)" x="365.59 374.30 383.58 394.62" y="0" font-size="16.57" fill="#333333" stroke="#333333" stroke-width="0.3">Year</text>
<text transform="translate(17.20 0) rotate(-90) scale(1.0077 1)" x="-651.53 -639.77 -629.76 -615.30 -605.91 -596.09 -590.41 -585.62 -575.90 -571.02 -567.03 -557.24 -546.83 -540.63 -535.07 -525.57 -515.91 -507.02 -496.87 -488.90 -479.78" y="0" font-size="16.12" fill="#338ec4" stroke="#338ec4" stroke-width="0.3">Number of Earthquakes</text>
<text transform="translate(682.10 0) rotate(-90) scale(0.9314 1)" x="-647.75 -636.58 -626.42 -622.45 -611.16 -604.99 -600.06 -589.09 -578.25 -567.78 -563.82 -552.60 -546.54 -541.67 -532.11" y="0" font-size="16.76" fill="#ff4a12" stroke="#ff4a12" stroke-width="0.3">Solar Radiative</text>
<text x="68.87" y="482.80" font-size="20.3" text-anchor="middle" fill="#000" textLength="11.48" lengthAdjust="spacingAndGlyphs" stroke="#000" stroke-width="0.08">c</text>
</svg>
</body></html>
